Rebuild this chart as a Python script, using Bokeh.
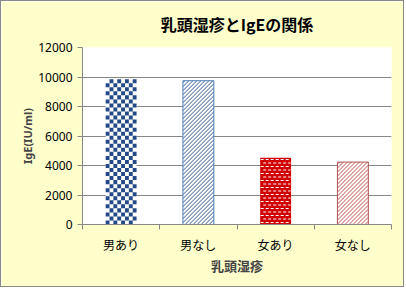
from bokeh.plotting import figure
from bokeh.models import FixedTicker, Range1d, Title
from bokeh.embed import file_html
from bokeh.resources import INLINE

categories = ["男あり", "男なし", "女あり", "女なし"]
values = [9850, 9750, 4530, 4230]
y_ticks = [0, 2000, 4000, 6000, 8000, 10000, 12000]
title_text = "乳頭湿疹とIgEの関係"

FRAME_W, FRAME_H = 309, 177
YMAX = 12000
p = figure(width=404, height=287, output_backend="svg", toolbar_location=None,
           min_border_left=81, min_border_right=14, min_border_top=46, min_border_bottom=64,
           x_range=Range1d(0, len(categories)), y_range=Range1d(0, YMAX))
p.styles = {"border": "1px solid #8a8a8a"}
p.background_fill_color = "white"
p.border_fill_color = "#FFFFCC"
p.outline_line_color = None

xs = [i + 0.5 for i in range(len(categories))]
w = 0.4
sx = FRAME_W / len(categories)   # px per x unit
sy = FRAME_H / YMAX              # px per y unit

# bar 1: checkerboard
ncol = 8
nrow = round(values[0] * sy / 4)
cw = w / ncol
ch = values[0] / nrow
cx, cy = [], []
for r in range(nrow):
    for c in range(ncol):
        if (r + c) % 2 == 0:
            cx.append(xs[0] - w / 2 + (c + 0.5) * cw)
            cy.append((r + 0.5) * ch)
p.vbar(x=[xs[0]], top=[values[0]], width=w, fill_color="white", line_color=None)
p.rect(x=cx, y=cy, width=cw, height=ch, fill_color="#234A86", line_color=None)

def diag_segments(xc, top, spacing=4.0):
    # "/" lines clipped to the bar rectangle, computed in pixel space
    W = w * sx
    H = top * sy
    x0s, y0s, x1s, y1s = [], [], [], []
    c = -H + spacing / 2
    while c < W:
        pa = max(0.0, c)
        pb = min(W, H + c)
        if pb > pa:
            x0s.append(xc - w / 2 + pa / sx); y0s.append((pa - c) / sy)
            x1s.append(xc - w / 2 + pb / sx); y1s.append((pb - c) / sy)
        c += spacing
    return x0s, y0s, x1s, y1s

# bar 2: blue diagonal
p.vbar(x=[xs[1]], top=[values[1]], width=w, fill_color="white", line_color=None)
a, b, c_, d = diag_segments(xs[1], values[1])
p.segment(a, b, c_, d, line_color="#2F5597", line_width=1)
p.vbar(x=[xs[1]], top=[values[1]], width=w, fill_color=None, line_color="#4F81BD", line_width=1)

# bar 3: red with white staggered dashes
p.vbar(x=[xs[2]], top=[values[2]], width=w, fill_color="#D00000", line_color=None)
W3 = w * sx
H3 = values[2] * sy
dx0, dy0, dx1, dy1 = [], [], [], []
row = 0
py = 2.0
while py < H3 - 1:
    off = 0.5 if row % 2 == 0 else 3.0
    px = off
    while px < W3 - 0.5:
        pe = min(px + 3.0, W3 - 0.5)
        dx0.append(xs[2] - w / 2 + px / sx); dx1.append(xs[2] - w / 2 + pe / sx)
        dy0.append(py / sy); dy1.append(py / sy)
        px += 5.0
    py += 3.5
    row += 1
p.segment(dx0, dy0, dx1, dy1, line_color="white", line_width=1)

# bar 4: red diagonal
p.vbar(x=[xs[3]], top=[values[3]], width=w, fill_color="white", line_color=None)
a, b, c_, d = diag_segments(xs[3], values[3])
p.segment(a, b, c_, d, line_color="#C0504D", line_width=1)
p.vbar(x=[xs[3]], top=[values[3]], width=w, fill_color=None, line_color="#B05050", line_width=1)

p.title = Title(text=title_text, align="center", vertical_align="top",
                text_font="Noto Sans CJK JP", text_font_size="16px", text_font_style="bold",
                text_color="black", standoff=19)

xa = p.xaxis[0]
xa.ticker = FixedTicker(ticks=xs, minor_ticks=list(range(len(categories) + 1)))
xa.major_label_overrides = {x: c for x, c in zip(xs, categories)}
xa.major_tick_line_color = None
xa.minor_tick_in = 0
xa.minor_tick_out = 5
xa.minor_tick_line_color = "#868686"
xa.axis_line_color = "#868686"
xa.major_label_text_font = "Noto Sans CJK JP"
xa.major_label_text_font_size = "12px"
xa.major_label_text_color = "black"
xa.major_label_standoff = 5
xa.axis_label = "乳頭湿疹"
xa.axis_label_text_font = "Noto Sans CJK JP"
xa.axis_label_text_font_size = "13px"
xa.axis_label_text_font_style = "bold"
xa.axis_label_standoff = 0

ya = p.yaxis[0]
ya.ticker = FixedTicker(ticks=y_ticks)
ya.minor_tick_line_color = None
ya.major_tick_in = 0
ya.major_tick_out = 5
ya.major_tick_line_color = "#868686"
ya.axis_line_color = "#868686"
ya.major_label_text_font = "Noto Sans"
ya.major_label_text_font_size = "12px"
ya.major_label_text_color = "black"
ya.major_label_standoff = 5
ya.axis_label = "IgE(IU/ml)"
ya.axis_label_text_font = "Noto Sans"
ya.axis_label_text_font_size = "11px"
ya.axis_label_text_font_style = "bold"
ya.axis_label_standoff = 0

p.xgrid.grid_line_color = None
p.ygrid.grid_line_color = "#868686"
p.ygrid.ticker = FixedTicker(ticks=y_ticks)

open("out.html", "w").write(file_html(p, INLINE))
